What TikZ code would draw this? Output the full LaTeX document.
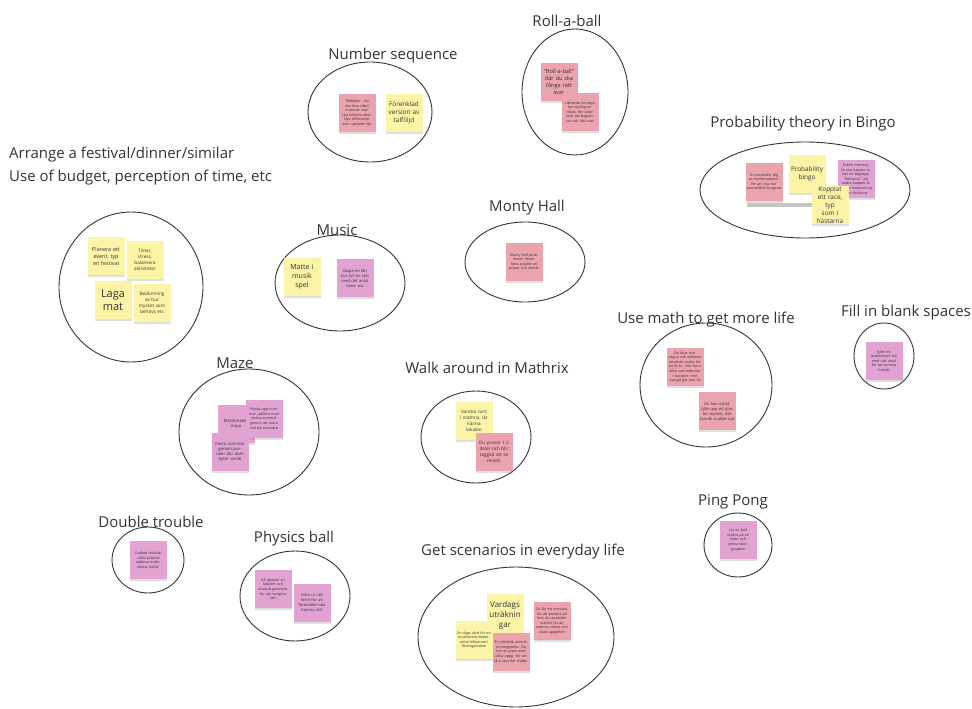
\documentclass[tikz,border=0pt]{standalone}
\usepackage{fontspec}
\setmainfont{Open Sans}
\usetikzlibrary{shapes.geometric,shadows}
\definecolor{salmon}{HTML}{EBA3AE}
\definecolor{orchid}{HTML}{E2A3D2}
\definecolor{sticky}{HTML}{FBF4A6}
\definecolor{ink}{HTML}{333333}
\begin{document}
\begin{tikzpicture}[x=1pt,y=-1pt,
  title/.style={font=\fontsize{15}{18}\selectfont, text=ink, inner sep=0pt, yshift=-2pt},
  ring/.style={draw=ink, line width=0.9pt, ellipse, inner sep=0pt},
  note/.style={minimum width=37pt, minimum height=38pt, inner sep=0.3pt, text width=36pt, align=center, text=ink,
    drop shadow={shadow xshift=0.6pt, shadow yshift=-1.8pt, opacity=0.25}},
  tiny/.style={note, font=\fontsize{3.6}{4.6}\selectfont},
  small/.style={note, font=\fontsize{6.4}{8}\selectfont},
  pinkA/.style={fill=salmon},
  pinkB/.style={fill=orchid},
  yel/.style={fill=sticky}]
\useasboundingbox (0,0) rectangle (972,709);

% ---------- ellipses ----------
\node[ring, minimum width=124pt, minimum height=100pt] (eNum) at (370,112) {};
\node[ring, minimum width=106pt, minimum height=126pt] (eRoll) at (575,92) {};
\node[ring, minimum width=210pt, minimum height=96pt] (eProb) at (805,190) {};
\node[ring, minimum width=144pt, minimum height=150pt] (eFest) at (131,287) {};
\node[ring, minimum width=130pt, minimum height=96pt] (eMus) at (340,283) {};
\node[ring, minimum width=120pt, minimum height=80pt] (eMonty) at (525,262) {};
\node[ring, minimum width=132pt, minimum height=124pt] (eUse) at (706,385) {};
\node[ring, minimum width=60pt, minimum height=66pt] (eFill) at (884,356) {};
\node[ring, minimum width=140pt, minimum height=126pt] (eMaze) at (249,432) {};
\node[ring, minimum width=110pt, minimum height=92pt] (eWalk) at (476,437) {};
\node[ring, minimum width=68pt, minimum height=64pt] (ePing) at (738,545) {};
\node[ring, minimum width=72pt, minimum height=66pt] (eDbl) at (148,560) {};
\node[ring, minimum width=110pt, minimum height=90pt] (ePhys) at (295,596) {};
\node[ring, minimum width=196pt, minimum height=140pt] (eEvery) at (516,637) {};

% ---------- titles ----------
\node[title] (tNum) at (393,54) {Number sequence};
\node[title] (tRoll) at (567,19) {Roll-a-ball};
\node[title] (tProb) at (803,122) {Probability theory in Bingo};
\node[title, anchor=west] (tFest1) at (9,153) {Arrange a festival/dinner/similar};
\node[title, anchor=west] (tFest2) at (9,176) {Use of budget, perception of time, etc};
\node[title] (tMus) at (337,228) {Music};
\node[title] (tMonty) at (527,206) {Monty Hall};
\node[title] (tUse) at (706,318) {Use math to get more life};
\node[title] (tFill) at (906,311) {Fill in blank spaces};
\node[title] (tMaze) at (235,361) {Maze};
\node[title] (tWalk) at (487,366) {Walk around in Mathrix};
\node[title] (tPing) at (733,500) {Ping Pong};
\node[title] (tDbl) at (151,520) {Double trouble};
\node[title] (tPhys) at (294,537) {Physics ball};
\node[title] (tEvery) at (523,550) {Get scenarios in everyday life};

% ---------- Number sequence ----------
\node[tiny, pinkA] (n1) at (357,113) {Talföljder - du ska lista vilket nummer som ska komma efter. Nya sifferserier som spelaren får};
\node[small, yel] (n2) at (404,113) {Förenklad\\version av\\talföljd};

% ---------- Roll-a-ball ----------
\node[note, pinkA, font=\fontsize{5.6}{7}\selectfont] (r1) at (559,82) {"Roll-a-ball"\\där du ska\\fånga rätt\\svar};
\node[tiny, pinkA] (r2) at (580,112) {Liknande koncept fast tävlingsinriktat, fler sidor som ska begränsas och rätt svar};

% ---------- Probability ----------
\fill[gray!45] (747,203) rectangle (818,207);
\node[tiny, pinkA] (p1) at (764,182) {Du använder dig av kombinationer för att visa hur sannolikhet fungerar};
\node[small, yel] (p2) at (807,174) {Probability\\bingo};
\node[tiny, pinkB] (p4) at (856,179) {Enkelt memory, fö ena kappen är det ett begrepp, "Behavior", på andra kappen är det en beskrivning som förklarar};
\node[small, yel] (p3) at (830,205) {Kopplat\\ett race, typ\\som i\\hästarna};

% ---------- Festival ----------
\node[note, yel, font=\fontsize{5.4}{7}\selectfont] (f1) at (106,256) {Planera ett\\event, typ\\en festival};
\node[note, yel, font=\fontsize{4.6}{6}\selectfont] (f2) at (145,260) {Timer,\\stress,\\balansera\\aktiviteter};
\node[note, yel, font=\fontsize{11}{13.5}\selectfont] (f3) at (113,300) {Laga\\mat};
\node[note, yel, font=\fontsize{4.6}{6}\selectfont] (f4) at (152,303) {Bedömning\\av hur\\mycket som\\behövs etc};

% ---------- Music ----------
\node[note, yel, font=\fontsize{7}{9}\selectfont] (m1) at (302,277) {Matte i\\musik\\spel};
\node[tiny, pinkB, font=\fontsize{4}{5}\selectfont] (m2) at (355,278) {Skapa en låt/\\Dvs fyll en takt\\med rätt antal\\toner osv};

% ---------- Monty Hall ----------
\node[tiny, pinkA] (mh) at (524,262) {Monty hall problemet. Modifiera antalet sej prover och dörrar};

% ---------- Maze ----------
\node[tiny, pinkB, font=\fontsize{4.2}{5.2}\selectfont] (z1) at (236,424) {Mattbreaker\\inspo};
\node[tiny, pinkB] (z2) at (264,419) {Plocka upp nummer, addera med andra nummer genom att svara rätt på varandra};
\node[tiny, pinkB, font=\fontsize{4.2}{5.2}\selectfont] (z3) at (230,452) {Kasta nummer genom portaler där dom byter värde};

% ---------- Walk around ----------
\node[note, yel, font=\fontsize{4.6}{6}\selectfont] (w1) at (474,421) {Vandra runt\\i mathrix, lär\\känna\\lokalen};
\node[note, pinkA, font=\fontsize{4.6}{6}\selectfont] (w2) at (494,452) {Du provar 1-2\\delar och blir\\taggad att se\\resten};

% ---------- Use math ----------
\node[tiny, pinkA] (u1) at (685,367) {Du ökar mer nägon och behöver använda matte för att få liv. Den finns olika sad kederiser i stanpler, mer mängd ger mer liv};
\node[tiny, pinkA, font=\fontsize{4}{5}\selectfont] (u2) at (717,411) {Du kan också\\fylla upp ett glas\\för mycket, det\\skarab snabbt salt};

% ---------- Fill in blank spaces ----------
\node[tiny, pinkB] (fb) at (884,361) {fyller en\\(sub)variant hål\\med rätt antal\\för att komma\\framåt};

% ---------- Ping Pong ----------
\node[tiny, pinkB] (pp) at (738,540) {Lär en boll\\studsa på en\\kraks och\\prova rätt i\\gruppen};

% ---------- Double trouble ----------
\node[tiny, pinkB] (dt) at (148,560) {Dubble trouble\\- olika pistoler\\adderar/subtr\\aherar bollar};

% ---------- Physics ball ----------
\node[tiny, pinkB] (ph1) at (273,589) {Gå igenom en\\labyrint och\\använd geometri\\för att navigera\\rätt};
\node[tiny, pinkB, font=\fontsize{4}{5}\selectfont] (ph2) at (312,603) {Hitta ut rätt\\form för att\\föremålen ska\\hamna rätt};

% ---------- Everyday ----------
\node[note, yel, minimum height=42pt, font=\fontsize{8}{10}\selectfont] (e1) at (505,615) {Vardags\\uträknin\\gar};
\node[tiny, pinkA] (e4) at (552,621) {Du får ett scenario, fex att planera en fest, du använder matten för att komma vidare och klara uppgiften};
\node[tiny, yel] (e2) at (474,640) {En dags vård för en musikevent/teater, artist/influencer/ företagsledare};
\node[tiny, pinkA] (e3) at (511,652) {En världslik animal, runningsteno. Du har en plats med olika uppg. för att låsa upp fler städer};
\end{tikzpicture}
\end{document}
